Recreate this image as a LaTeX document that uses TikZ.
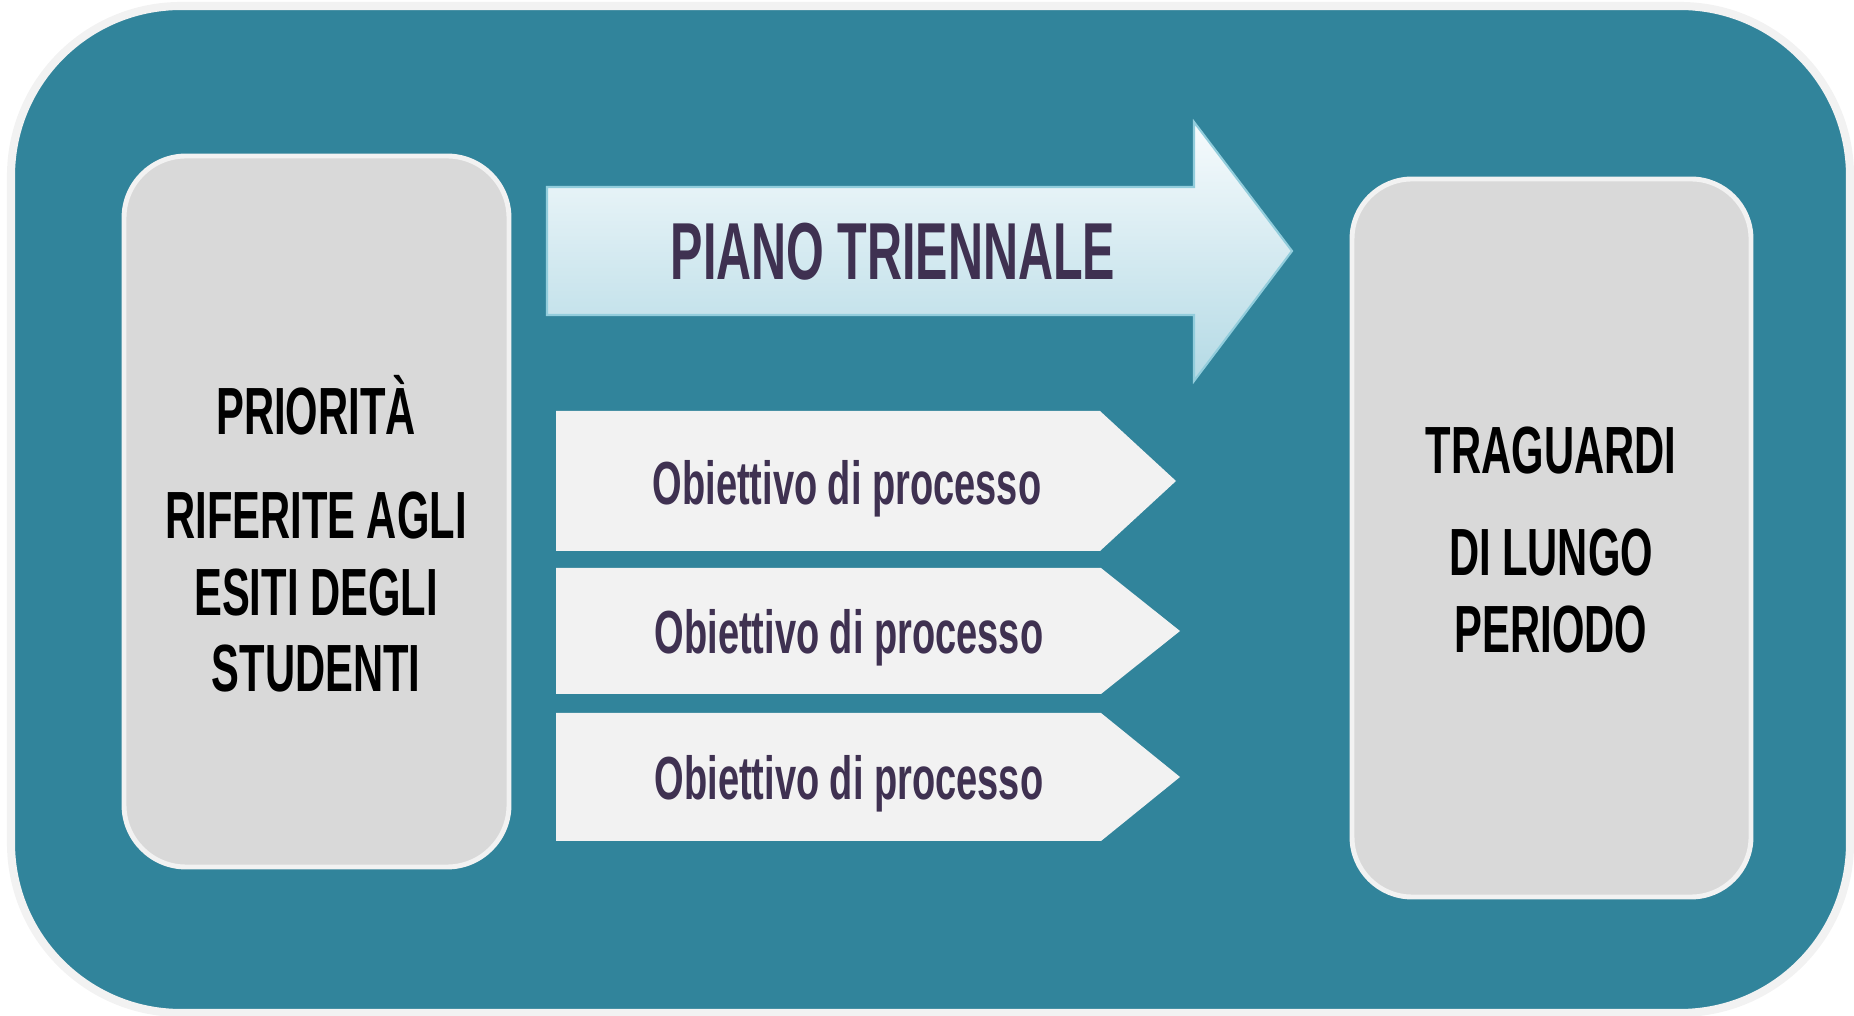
\documentclass[tikz,border=0pt]{standalone}
\usepackage{fontspec}
\newfontfamily\agency{Liberation Sans}[FakeStretch=0.6]
\newfontfamily\agencywide{Liberation Sans}[FakeStretch=0.625]

\begin{document}
\begin{tikzpicture}[x=0.1mm, y=-0.1mm,
  boxtext/.style={anchor=base, text=black, font=\agencywide\bfseries\fontsize{19}{19}\selectfont},
  obtext/.style={anchor=base, text=txtcol, font=\agencywide\bfseries\fontsize{17.3}{17.3}\selectfont},
  pentagon/.style={fill=pentcol}]
\definecolor{bgcol}{HTML}{31849B}
\definecolor{bordcol}{HTML}{F2F2F2}
\definecolor{boxcol}{HTML}{D9D9D9}
\definecolor{pentcol}{HTML}{F2F2F2}
\definecolor{txtcol}{HTML}{3F3151}
\definecolor{arrowtop}{HTML}{F7FBFD}
\definecolor{arrowbot}{HTML}{B4DAE5}
\definecolor{arrowline}{HTML}{92CDDC}
\useasboundingbox (0,0) rectangle (1854,1016);
% outer frame
\draw[line width=2.3pt, draw=bordcol, fill=bgcol, rounded corners=17mm] (11,6) rectangle (1850,1013);
% left and right boxes
\draw[line width=1.4pt, draw=bordcol, fill=boxcol, rounded corners=6.2mm] (124,156) rectangle (509,867);
\draw[line width=1.4pt, draw=bordcol, fill=boxcol, rounded corners=6mm] (1352,179) rectangle (1751,897);
\node[boxtext] (prio1) at (316,435) {PRIORITÀ};
\node[boxtext] (prio2) at (316,539) {RIFERITE AGLI};
\node[boxtext] (prio3) at (316,616) {ESITI DEGLI};
\node[boxtext] (prio4) at (316,692) {STUDENTI};
\node[boxtext] (trag1) at (1551,474) {TRAGUARDI};
\node[boxtext] (trag2) at (1551,576) {DI LUNGO};
\node[boxtext] (trag3) at (1551,653) {PERIODO};
% big arrow
\draw[line width=0.6pt, draw=arrowline, top color=arrowtop, bottom color=arrowbot]
  (547,187) -- (1194,187) -- (1194,122) -- (1292,251) -- (1194,381) -- (1194,315) -- (547,315) -- cycle;
\node[anchor=base, text=txtcol, font=\agency\bfseries\fontsize{23}{23}\selectfont] (piano) at (893,280) {PIANO TRIENNALE};
% obiettivi
\fill[pentagon] (556,411) -- (1100,411) -- (1176,481) -- (1100,551) -- (556,551) -- cycle;
\node[obtext] (ob1) at (847,505) {Obiettivo di processo};
\fill[pentagon] (556,568) -- (1101,568) -- (1180,631) -- (1101,694) -- (556,694) -- cycle;
\node[obtext] (ob2) at (849,654) {Obiettivo di processo};
\fill[pentagon] (556,713) -- (1101,713) -- (1180,777) -- (1101,841) -- (556,841) -- cycle;
\node[obtext] (ob3) at (849,800) {Obiettivo di processo};
\end{tikzpicture}
\end{document}
